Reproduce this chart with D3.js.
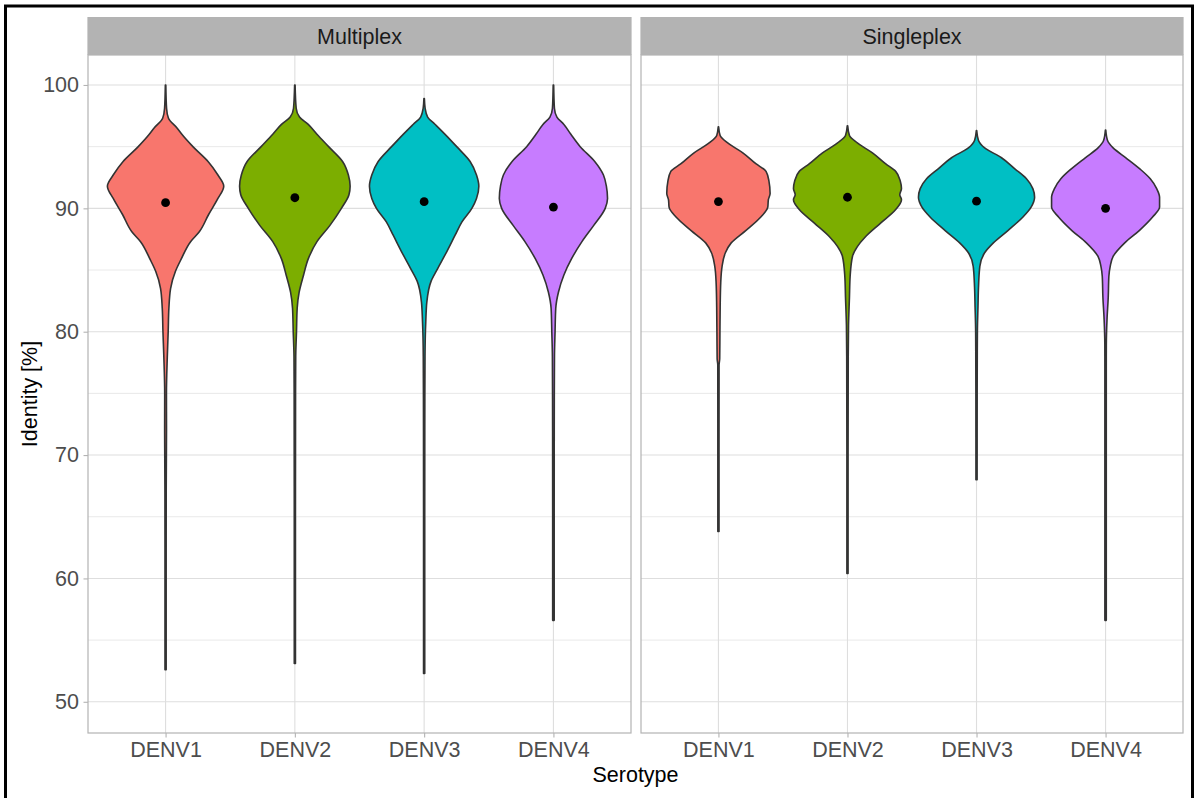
<!DOCTYPE html>
<html>
<head>
<meta charset="utf-8">
<script src="https://cdn.jsdelivr.net/npm/d3@7"></script>
<style>
  html, body { margin: 0; padding: 0; background: #fff; }
  svg text { font-family: "Liberation Sans", Arial, Helvetica, sans-serif; }
</style>
</head>
<body>
<svg id="chart" width="1196" height="798"></svg>
<script>
// Facets, categories and axis breaks
const assays = ["Multiplex", "Singleplex"];
const serotypes = ["DENV1", "DENV2", "DENV3", "DENV4"];
const yMajorTicks = [50, 60, 70, 80, 90, 100];
const yMinorTicks = [55, 65, 75, 85, 95];
const serotypeColors = ["#F8766D", "#7CAE00", "#00BFC4", "#C77CFF"];

// Mean identity per serotype (black dots)
const meanMultiplex = [90.46, 90.86, 90.54, 90.10];
const meanSingleplex = [90.55, 90.90, 90.58, 90.00];

// Kernel density profiles: [identity %, scaled density] (1 = widest violin)
const densMultiplexDENV1 = [
  [52.6, 0.010], [60, 0.010], [67, 0.011], [70, 0.014], [72, 0.016], [75, 0.015],
  [78, 0.030], [80, 0.045], [81.9, 0.057], [83.5, 0.086], [84.9, 0.17], [85.9, 0.27],
  [87.3, 0.43], [88.1, 0.58], [89.5, 0.74], [90.8, 0.90], [91.8, 1.00], [92.7, 0.90],
  [93.8, 0.73], [95.0, 0.47], [96.0, 0.28], [96.5, 0.20], [97.3, 0.05], [98.1, 0.017], [100, 0.004]
];
const densMultiplexDENV2 = [
  [53.1, 0.010], [65, 0.010], [70, 0.011], [75, 0.012], [78, 0.015], [80, 0.028],
  [81.9, 0.040], [83.2, 0.074], [84.6, 0.15], [85.9, 0.23], [87.3, 0.38], [88.6, 0.60],
  [90.0, 0.80], [91.1, 0.93], [91.8, 0.95], [92.7, 0.92], [93.8, 0.82], [95.0, 0.58],
  [96.0, 0.38], [96.8, 0.23], [97.4, 0.08], [98.1, 0.023], [100, 0.004]
];
const densMultiplexDENV3 = [
  [52.3, 0.010], [65, 0.010], [72, 0.011], [78, 0.015], [80.8, 0.028], [82.4, 0.046],
  [84.1, 0.12], [85.1, 0.23], [86.5, 0.39], [87.8, 0.53], [88.9, 0.65], [90.0, 0.82],
  [90.8, 0.90], [91.8, 0.94], [92.7, 0.90], [93.8, 0.79], [95.0, 0.56], [96.0, 0.36],
  [96.8, 0.19], [97.4, 0.06], [98.1, 0.017], [98.9, 0.004]
];
const densMultiplexDENV4 = [
  [56.6, 0.013], [65, 0.013], [72, 0.014], [78, 0.018], [80, 0.028], [81.9, 0.040],
  [83.2, 0.086], [84.6, 0.18], [85.9, 0.31], [87.3, 0.49], [88.6, 0.69], [90.0, 0.89],
  [90.8, 0.93], [91.8, 0.91], [92.7, 0.86], [93.8, 0.71], [95.0, 0.46], [96.0, 0.30],
  [96.8, 0.18], [97.4, 0.06], [98.1, 0.017], [100, 0.004]
];
const densSingleplexDENV1 = [
  [63.8, 0.010], [70, 0.010], [77.3, 0.011], [77.8, 0.022], [80, 0.026], [82, 0.030],
  [84.0, 0.040], [85.3, 0.063], [86.4, 0.12], [87.2, 0.22], [88.2, 0.47], [89.3, 0.73],
  [90.1, 0.85], [90.7, 0.86], [91.2, 0.89], [92.2, 0.87], [93.0, 0.82], [93.6, 0.65],
  [94.5, 0.42], [95.3, 0.16], [95.9, 0.029], [96.6, 0.003]
];
const densSingleplexDENV2 = [
  [60.4, 0.010], [70, 0.010], [78, 0.013], [80.5, 0.018], [82.8, 0.034], [84.5, 0.046],
  [86.1, 0.086], [86.9, 0.17], [87.7, 0.31], [88.8, 0.57], [89.9, 0.83], [90.7, 0.93],
  [91.1, 0.90], [91.6, 0.93], [92.2, 0.91], [93.0, 0.83], [93.6, 0.66], [94.5, 0.43],
  [95.3, 0.17], [95.9, 0.034], [96.7, 0.003]
];
const densSingleplexDENV3 = [
  [68.0, 0.010], [75, 0.011], [80, 0.015], [82, 0.025], [83.6, 0.034], [85.3, 0.057],
  [86.4, 0.14], [87.2, 0.29], [88.2, 0.54], [89.3, 0.80], [90.1, 0.94], [90.9, 1.00],
  [91.6, 0.97], [92.4, 0.86], [93.2, 0.66], [94.1, 0.43], [94.9, 0.14], [95.5, 0.034],
  [96.3, 0.003]
];
const densSingleplexDENV4 = [
  [56.6, 0.012], [70, 0.012], [77, 0.012], [79, 0.013], [81, 0.025], [82.8, 0.046],
  [84.5, 0.057], [85.3, 0.080], [86.1, 0.13], [87.2, 0.33], [88.2, 0.58], [89.3, 0.81],
  [90.1, 0.93], [90.9, 0.93], [91.6, 0.88], [92.4, 0.77], [93.2, 0.59], [94.1, 0.35],
  [94.9, 0.13], [95.5, 0.034], [96.35, 0.003]
];

const densityByAssay = {
  Multiplex: [densMultiplexDENV1, densMultiplexDENV2, densMultiplexDENV3, densMultiplexDENV4],
  Singleplex: [densSingleplexDENV1, densSingleplexDENV2, densSingleplexDENV3, densSingleplexDENV4]
};
const meansByAssay = { Multiplex: meanMultiplex, Singleplex: meanSingleplex };

// Layout
const svg = d3.select("#chart");
const panelTop = 55, panelBottom = 733;
const stripTop = 17;
const panels = [
  { name: assays[0], left: 88, right: 631 },
  { name: assays[1], left: 641, right: 1183 }
];

const y = d3.scaleLinear().domain([47.47, 102.43]).range([panelBottom, panelTop]);

svg.append("rect").attr("x", 0).attr("y", 0).attr("width", 1196).attr("height", 798).attr("fill", "#fff");

panels.forEach(p => {
  const g = svg.append("g");
  const x = d3.scalePoint().domain(serotypes).range([p.left, p.right]).padding(0.6);
  const halfMax = 0.45 * x.step();

  // panel background
  g.append("rect").attr("x", p.left).attr("y", panelTop)
    .attr("width", p.right - p.left).attr("height", panelBottom - panelTop)
    .attr("fill", "#fff");

  // grid
  g.selectAll(".minor").data(yMinorTicks).enter().append("line")
    .attr("x1", p.left).attr("x2", p.right)
    .attr("y1", d => y(d)).attr("y2", d => y(d))
    .attr("stroke", "#E6E6E6").attr("stroke-width", 0.9);
  g.selectAll(".major").data(yMajorTicks).enter().append("line")
    .attr("x1", p.left).attr("x2", p.right)
    .attr("y1", d => y(d)).attr("y2", d => y(d))
    .attr("stroke", "#DEDEDE").attr("stroke-width", 1.1);
  g.selectAll(".vmajor").data(serotypes).enter().append("line")
    .attr("x1", d => x(d)).attr("x2", d => x(d))
    .attr("y1", panelTop).attr("y2", panelBottom)
    .attr("stroke", "#DEDEDE").attr("stroke-width", 1.1);

  // violins
  const dens = densityByAssay[p.name];
  const means = meansByAssay[p.name];
  serotypes.forEach((s, i) => {
    const cx = x(s);
    const area = d3.area()
      .y(d => y(d[0]))
      .x0(d => cx - d[1] * halfMax)
      .x1(d => cx + d[1] * halfMax)
      .curve(d3.curveMonotoneY);
    g.append("path").datum(dens[i])
      .attr("d", area)
      .attr("fill", serotypeColors[i])
      .attr("stroke", "#333333")
      .attr("stroke-width", 1.6)
      .attr("stroke-linejoin", "round");
  });

  // means
  g.selectAll(".mean").data(means).enter().append("circle")
    .attr("cx", (d, i) => x(serotypes[i]))
    .attr("cy", d => y(d))
    .attr("r", 4.4)
    .attr("fill", "#000");

  // panel border
  g.append("rect").attr("x", p.left).attr("y", panelTop)
    .attr("width", p.right - p.left).attr("height", panelBottom - panelTop)
    .attr("fill", "none").attr("stroke", "#B3B3B3").attr("stroke-width", 1.2);

  // strip
  g.append("rect").attr("x", p.left - 0.6).attr("y", stripTop)
    .attr("width", p.right - p.left + 1.2).attr("height", panelTop - stripTop)
    .attr("fill", "#B3B3B3");
  g.append("text").attr("x", (p.left + p.right) / 2).attr("y", 43.5)
    .attr("text-anchor", "middle").attr("font-size", 21.5).attr("fill", "#1A1A1A")
    .text(p.name);

  // x axis
  const xAxis = d3.axisBottom(x).tickSize(4.5).tickPadding(4);
  const xa = svg.append("g").attr("transform", `translate(0,${panelBottom})`).call(xAxis);
  xa.select(".domain").remove();
  xa.selectAll(".tick line").attr("stroke", "#B3B3B3").attr("stroke-width", 1.1);
  xa.selectAll(".tick text").attr("font-size", 21.5).attr("fill", "#4D4D4D")
    .attr("font-family", "Liberation Sans, Arial, sans-serif");
});

// y axis (left panel only)
const yAxis = d3.axisLeft(y).tickValues(yMajorTicks).tickSize(4.5).tickPadding(4.5);
const ya = svg.append("g").attr("transform", `translate(${panels[0].left},0)`).call(yAxis);
ya.select(".domain").remove();
ya.selectAll(".tick line").attr("stroke", "#B3B3B3").attr("stroke-width", 1.1);
ya.selectAll(".tick text").attr("font-size", 21.5).attr("fill", "#4D4D4D")
  .attr("font-family", "Liberation Sans, Arial, sans-serif");

// axis titles
svg.append("text").attr("x", (panels[0].left + panels[1].right) / 2).attr("y", 782)
  .attr("text-anchor", "middle").attr("font-size", 21.5).attr("fill", "#000")
  .text("Serotype");
svg.append("text")
  .attr("transform", `translate(37,${(panelTop + panelBottom) / 2}) rotate(-90)`)
  .attr("text-anchor", "middle").attr("font-size", 21.5).attr("fill", "#000")
  .text("Identity [%]");

// outer frame
svg.append("rect").attr("x", 5.5).attr("y", 6).attr("width", 1187).attr("height", 820)
  .attr("fill", "none").attr("stroke", "#000").attr("stroke-width", 3);
</script>
</body>
</html>
